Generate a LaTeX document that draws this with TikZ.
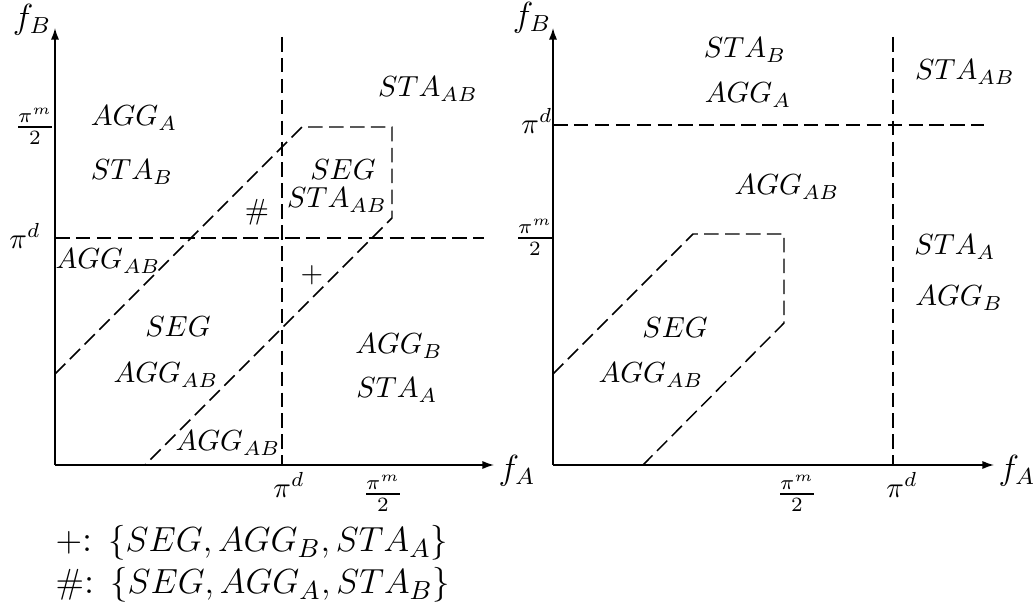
\documentclass[tikz,border=0pt]{standalone}
\usepackage{amsmath,amssymb}
\usetikzlibrary{arrows.meta, positioning}

\begin{document}
\begin{tikzpicture}[
    x=0.0121cm, y=-0.0121cm,
    axis/.style={-{Latex[length=4pt, width=2.8pt]}, line width=0.5pt},
    bound/.style={dash pattern=on 5pt off 2.2pt, line width=0.5pt},
    region/.style={inner sep=0pt},
    tick/.style={inner sep=0pt},
    legend/.style={inner sep=0pt, anchor=west, font=\fontsize{12.7pt}{15pt}\selectfont},
  ]
  \useasboundingbox (0,0) rectangle (1035,605);

  % Left panel: axes
  \coordinate (lo) at (55,465);
  \coordinate (ly) at (55,28);
  \coordinate (lx) at (494,465);
  \draw[axis] (lo) -- (ly);
  \draw[axis] (lo) -- (lx);
  \node (lfb) at (32,20) {\large$f_B$};
  \node (lfa) at (517,471) {\large$f_A$};

  % Left panel: thresholds
  \coordinate (lvt) at (282,37);
  \coordinate (lvb) at (282,465);
  \coordinate (lhl) at (55,238);
  \coordinate (lhr) at (484,238);
  \draw[bound] (lvt) -- (lvb);
  \draw[bound] (lhl) -- (lhr);
  \node[tick] (lpdy) at (25,236) {$\pi^d$};
  \node[tick] (lpmy) at (35,126) {$\frac{\pi^m}{2}$};
  \node[tick] (lpdx) at (289,485) {$\pi^d$};
  \node[tick] (lpmx) at (383,493) {$\frac{\pi^m}{2}$};

  % Left panel: segregation band
  \coordinate (lb1) at (55,374);
  \coordinate (lb2) at (302,127);
  \coordinate (lb3) at (392,127);
  \coordinate (lb4) at (392,218);
  \coordinate (lb5) at (145,465);
  \draw[bound] (lb1) -- (lb2) -- (lb3) -- (lb4) -- (lb5);

  % Left panel: regions
  \node[region] (lsab) at (428,89) {$STA_{AB}$};
  \node[region] (lagga) at (134,118) {$AGG_A$};
  \node[region] (lstab) at (132,172) {$STA_B$};
  \node[region] (lseg1) at (343,170) {$SEG$};
  \node[region] (lsab2) at (337,200) {$STA_{AB}$};
  \node[region] (lhash) at (257,212) {$\#$};
  \node[region] (lab1) at (108,261) {$AGG_{AB}$};
  \node[region] (lplus) at (312,275) {$+$};
  \node[region] (lseg2) at (178,327) {$SEG$};
  \node[region] (lab2) at (166,375) {$AGG_{AB}$};
  \node[region] (laggb) at (399,346) {$AGG_B$};
  \node[region] (lstaa) at (397,390) {$STA_A$};
  \node[region] (lab3) at (228,443) {$AGG_{AB}$};

  % Legend
  \node[legend] (leg1) at (55,543) {$+$: $\{SEG, AGG_B, STA_A\}$};
  \node[legend] (leg2) at (55,585) {$\#$: $\{SEG, AGG_A, STA_B\}$};

  % Right panel: axes
  \coordinate (ro) at (553,465);
  \coordinate (ry) at (553,28);
  \coordinate (rx) at (994,465);
  \draw[axis] (ro) -- (ry);
  \draw[axis] (ro) -- (rx);
  \node (rfb) at (532,18) {\large$f_B$};
  \node (rfa) at (1017,471) {\large$f_A$};

  % Right panel: thresholds
  \coordinate (rvt) at (893,37);
  \coordinate (rvb) at (893,465);
  \coordinate (rhl) at (553,125);
  \coordinate (rhr) at (984,125);
  \draw[bound] (rvt) -- (rvb);
  \draw[bound] (rhl) -- (rhr);
  \node[tick] (rpdy) at (537,121) {$\pi^d$};
  \node[tick] (rpmy) at (535,237) {$\frac{\pi^m}{2}$};
  \node[tick] (rpdx) at (902,485) {$\pi^d$};
  \node[tick] (rpmx) at (797,493) {$\frac{\pi^m}{2}$};

  % Right panel: segregation band
  \coordinate (rb1) at (553,374);
  \coordinate (rb2) at (693,234);
  \coordinate (rb3) at (784,234);
  \coordinate (rb4) at (784,323);
  \coordinate (rb5) at (643,465);
  \draw[bound] (rb1) -- (rb2) -- (rb3) -- (rb4) -- (rb5);

  % Right panel: regions
  \node[region] (rstab) at (745,50) {$STA_B$};
  \node[region] (ragga) at (748,95) {$AGG_A$};
  \node[region] (rsab) at (965,72) {$STA_{AB}$};
  \node[region] (rab1) at (787,187) {$AGG_{AB}$};
  \node[region] (rstaa) at (955,247) {$STA_A$};
  \node[region] (raggb) at (959,298) {$AGG_B$};
  \node[region] (rseg) at (675,328) {$SEG$};
  \node[region] (rab2) at (651,375) {$AGG_{AB}$};
\end{tikzpicture}
\end{document}
